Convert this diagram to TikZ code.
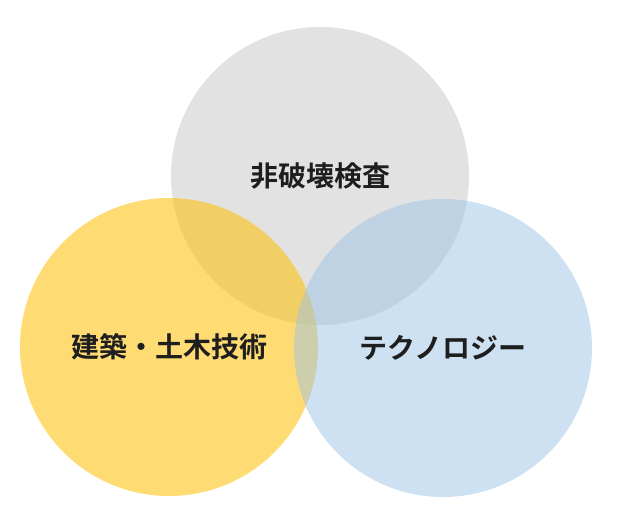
\documentclass[tikz,border=0pt]{standalone}
\usepackage{fontspec}
\usepackage{xcolor}
\usepackage{tikz}
\newfontfamily\jpfont{Noto Sans CJK JP}[BoldFont={Noto Sans CJK JP Bold}]
\definecolor{greyset}{HTML}{BFBFBF}
\definecolor{goldset}{HTML}{FFC000}
\definecolor{blueset}{HTML}{9DC3E6}
\definecolor{ink}{HTML}{1E1E1E}
\tikzset{
  set/.style={circle, minimum size=298pt, inner sep=0pt, draw=none,
    text=ink, text opacity=1, font=\jpfont\bfseries\fontsize{28}{32}\selectfont},
  setG/.style={set, fill=greyset, fill opacity=0.45},
  setY/.style={set, fill=goldset, fill opacity=0.55},
  setB/.style={set, fill=blueset, fill opacity=0.5}
}

\begin{document}
\begin{tikzpicture}[x=1pt, y=-1pt]
  \useasboundingbox (0,0) rectangle (618,521);

  % three sets
  \node[setG] (ndt)  at (320,176) {非破壊検査};
  \node[setY] (civil) at (169,347) {建築・土木技術};
  \node[setB] (tech) at (443,348) {テクノロジー};
\end{tikzpicture}
\end{document}
